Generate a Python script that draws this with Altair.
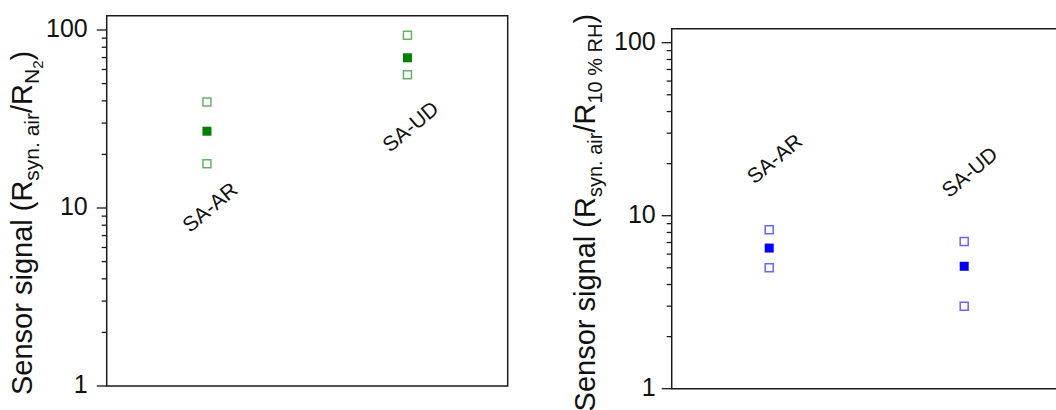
import altair as alt
import pandas as pd

FONT = "Liberation Sans"
INK = "#111111"
FRAME = "#1a1a1a"

categories = ["SA-AR", "SA-UD"]

# Sensor signal R(syn. air) / R(N2): mean with upper and lower values
n2_mean = [27.0, 69.8]
n2_high = [39.4, 93.3]
n2_low = [17.7, 56.1]
n2_label_y = [9.6, 27.2]

# Sensor signal R(syn. air) / R(10 % RH): mean with upper and lower values
rh_mean = [6.5, 5.1]
rh_high = [8.3, 7.1]
rh_low = [5.0, 3.0]
rh_label_y = [19.7, 16.5]

y_minor_values = [2, 3, 4, 5, 6, 7, 8, 9,
                  20, 30, 40, 50, 60, 70, 80, 90]
y_major_values = [1, 10, 100]
y_major_labels = ["1", "10", "100"]

# Arial / Liberation Sans advance widths (1/1000 em), used to chain title pieces
WIDTHS = {" ": 278, "(": 333, ")": 333, ".": 278, "/": 278, "%": 889,
          "0": 556, "1": 556, "2": 556, "R": 722, "S": 667, "N": 722,
          "H": 722, "a": 556, "e": 556, "g": 556, "i": 222, "l": 222,
          "n": 556, "o": 556, "r": 333, "s": 500, "y": 500}


def advance(text, size):
    return sum(WIDTHS[c] for c in text) * size / 1000.0


def rotated_title(pieces, x, y):
    """Vertical axis title with subscripts, built from chained text marks."""
    src = pd.DataFrame({"k": [0]})
    layers = []
    pos = 0.0
    for text, size, shift in pieces:
        layers.append(
            alt.Chart(src).mark_text(
                text=text, angle=270, align="left", baseline="alphabetic",
                fontSize=size, font=FONT, color=INK, dx=pos, dy=shift,
            ).encode(x=alt.value(x), y=alt.value(y))
        )
        pos += advance(text, size)
    return layers


def long_table(mean, high, low, label_y):
    rows = []
    for i, c in enumerate(categories):
        rows.append({"cat": c, "val": mean[i], "kind": "mean"})
        rows.append({"cat": c, "val": high[i], "kind": "range"})
        rows.append({"cat": c, "val": low[i], "kind": "range"})
    pts = pd.DataFrame(rows)
    labels = pd.DataFrame({"cat": categories, "val": label_y})
    return pts, labels


def tick_layer(values, y_enc, length):
    """Outward y-axis ticks of a given length, placed by the y scale."""
    return alt.Chart(pd.DataFrame({"val": values})).mark_rule(
        color=FRAME, strokeWidth=1.3,
    ).encode(y=y_enc, x=alt.value(-length), x2=alt.value(0))


def tick_labels(values, texts, y_enc, gap):
    """Decade labels to the left of the y axis, placed by the y scale."""
    return alt.Chart(pd.DataFrame({"val": values, "txt": texts})).mark_text(
        align="right", baseline="middle", fontSize=25, font=FONT,
        color=INK, dy=-1,
    ).encode(y=y_enc, x=alt.value(-gap), text="txt:N")


def panel(mean, high, low, label_y, color, width, height, ymax,
          label_gap, label_dx, title_pieces, title_x, title_y):
    pts, labels = long_table(mean, high, low, label_y)
    scale = alt.Scale(type="log", domain=[1, ymax], nice=False)
    x_enc = alt.X("cat:N", sort=categories,
                  scale=alt.Scale(type="point", padding=0.5), axis=None)
    y_enc = alt.Y("val:Q", scale=scale, axis=None)
    base = alt.Chart(pts).encode(x=x_enc, y=y_enc)
    open_sq = base.transform_filter("datum.kind == 'range'").mark_point(
        shape="square", filled=False, size=64, strokeWidth=1.5,
        color=color, opacity=0.6)
    full_sq = base.transform_filter("datum.kind == 'mean'").mark_point(
        shape="square", filled=True, size=81, color=color, opacity=1)
    names = alt.Chart(labels).mark_text(
        angle=320, align="center", baseline="middle", fontSize=21,
        font=FONT, color=INK, dx=label_dx,
    ).encode(x=x_enc, y=y_enc, text="cat:N")
    minor = tick_layer(y_minor_values, y_enc, 5)
    major = tick_layer(y_major_values, y_enc, 10)
    decade_text = tick_labels(y_major_values, y_major_labels, y_enc, label_gap)
    title_layers = rotated_title(title_pieces, title_x, title_y)
    return alt.layer(open_sq, full_sq, names, minor, major, decade_text,
                     *title_layers).properties(width=width, height=height)


left_title = [("Sensor signal (R", 29, 0), ("syn. air", 21, 7), ("/R", 29, 0),
              ("N", 21, 7), ("2", 15, 11), (")", 29, 0)]
right_title = [("Sensor signal (R", 29, 0), ("syn. air", 20, 7), ("/R", 29, 0),
               ("10 % RH", 20, 7), (")", 29, 0)]

left = panel(n2_mean, n2_high, n2_low, n2_label_y, "#008000",
             401, 370.3, 120.3, 19, 5, left_title, -75.2, 379.3)
right = panel(rh_mean, rh_high, rh_low, rh_label_y, "#0000ff",
              390, 360, 120.5, 16, 8, right_title, -76.7, 382.7)

spacer = alt.Chart(pd.DataFrame({"k": [0]})).mark_point(opacity=0).encode(
    x=alt.value(0), y=alt.value(0)
).properties(width=390, height=12.6,
             view=alt.ViewBackground(stroke="transparent"))

chart = alt.hconcat(
    left,
    alt.vconcat(spacer, right, spacing=0, bounds="flush"),
    spacing=164, bounds="flush",
).properties(
    autosize=alt.AutoSizeParams(type="none"),
    padding={"left": 106.7, "top": 15.7, "right": 949.3, "bottom": 394.3},
    background="white",
).configure(font=FONT).configure_view(stroke=FRAME, strokeWidth=1.5)

chart.save("out.html", embed_options={"renderer": "svg", "actions": False})
